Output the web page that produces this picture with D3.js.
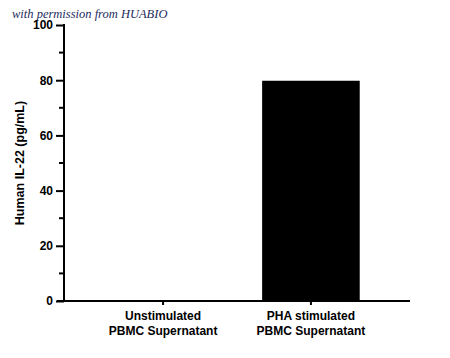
<!DOCTYPE html>
<html>
<head>
<meta charset="utf-8">
<script src="https://cdn.jsdelivr.net/npm/d3@7"></script>
<style>
  body { margin: 0; background: #fff; }
  svg text { font-family: "Liberation Sans", Arial, sans-serif; font-weight: bold; }
</style>
</head>
<body>
<div id="chart"></div>
<script>
// data
const categories = [['Unstimulated', 'PBMC Supernatant'], ['PHA stimulated', 'PBMC Supernatant']];
const values = [0, 79.8];
const majorTicks = [0, 20, 40, 60, 80, 100];
const minorTicks = [10, 30, 50, 70, 90];

const width = 450;
const height = 358;
const margin = { top: 25, right: 40, bottom: 57, left: 64 };

const svg = d3.select('#chart')
  .append('svg')
  .attr('width', width)
  .attr('height', height);

// watermark
svg.append('text')
  .attr('x', 12)
  .attr('y', 18)
  .style('font-family', '"Liberation Serif", "DejaVu Serif", serif')
  .style('font-style', 'italic')
  .style('font-weight', 'normal')
  .style('font-size', '12.5px')
  .attr('fill', '#1c2b5c')
  .text('with permission from HUABIO');

const x = d3.scaleBand()
  .domain(categories.map((d, i) => i))
  .range([margin.left, width - margin.right])
  .paddingInner(0.34)
  .paddingOuter(0.34);

const y = d3.scaleLinear()
  .domain([0, 100])
  .range([height - margin.bottom, margin.top]);

// bars
svg.selectAll('.bar')
  .data(values)
  .enter()
  .append('rect')
  .attr('x', (d, i) => x(i))
  .attr('y', (d) => y(d))
  .attr('width', x.bandwidth())
  .attr('height', (d) => y(0) - y(d))
  .attr('fill', '#000');

// Y axis
const yAxis = svg.append('g')
  .attr('transform', `translate(${margin.left},0)`)
  .call(d3.axisLeft(y).tickValues(majorTicks).tickSize(8).tickPadding(3).tickSizeOuter(0));
yAxis.select('.domain').attr('stroke-width', 2).attr('d', `M0,${y(0) + 1}V${y(100) - 1}`);
yAxis.selectAll('.tick line').attr('stroke-width', 2);
yAxis.selectAll('.tick text').style('font-size', '12px').attr('fill', '#000');

svg.append('g')
  .attr('transform', `translate(${margin.left},0)`)
  .selectAll('line')
  .data(minorTicks)
  .enter()
  .append('line')
  .attr('x1', -5)
  .attr('x2', 0)
  .attr('y1', (d) => y(d))
  .attr('y2', (d) => y(d))
  .attr('stroke', '#000')
  .attr('stroke-width', 2);

// X axis
const xAxis = svg.append('g')
  .attr('transform', `translate(0,${y(0)})`)
  .call(d3.axisBottom(x).tickSize(4).tickSizeOuter(0).tickFormat(''));
xAxis.select('.domain').attr('stroke-width', 2).attr('d', `M${margin.left - 7},0H${width - margin.right}`);
xAxis.selectAll('.tick line').attr('stroke-width', 2);

svg.append('g')
  .selectAll('text')
  .data(categories)
  .enter()
  .append('text')
  .attr('x', (d, i) => x(i) + x.bandwidth() / 2)
  .attr('y', y(0) + 19)
  .attr('text-anchor', 'middle')
  .style('font-size', '12px')
  .selectAll('tspan')
  .data((d) => d)
  .enter()
  .append('tspan')
  .attr('x', function () { return d3.select(this.parentNode).attr('x'); })
  .attr('dy', (d, i) => (i === 0 ? 0 : 15))
  .text((d) => d);

// Y label
svg.append('text')
  .attr('transform', `translate(24,${(y(0) + y(100)) / 2}) rotate(-90)`)
  .attr('text-anchor', 'middle')
  .style('font-size', '12.5px')
  .text('Human IL-22 (pg/mL)');
</script>
</body>
</html>
